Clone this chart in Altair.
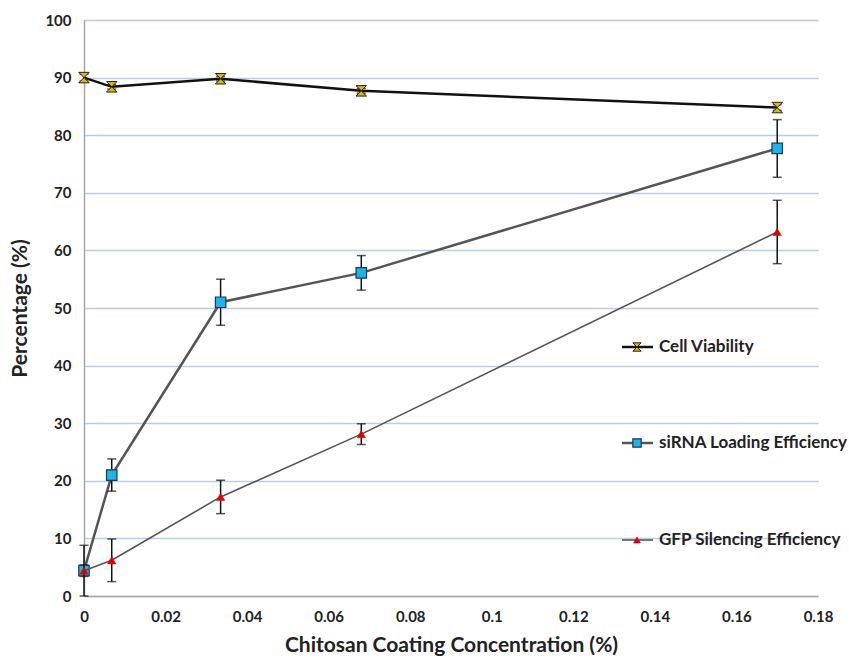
import altair as alt
import pandas as pd

# ---- data ----
conc = [0, 0.0068, 0.0335, 0.068, 0.17]
viability = [90.0, 88.4, 89.8, 87.7, 84.8]
viability_err = [0.6, 0.4, 0.4, 0.4, 0.5]
sirna = [4.4, 21.0, 51.0, 56.1, 77.7]
sirna_err = [1.0, 2.8, 4.0, 3.0, 5.0]
gfp = [4.4, 6.2, 17.2, 28.1, 63.2]
gfp_err = [4.4, 3.7, 2.9, 1.8, 5.5]
series_names = ["Cell Viability", "siRNA Loading Efficiency", "GFP Silencing Efficiency"]
x_ticks = [0, 0.02, 0.04, 0.06, 0.08, 0.1, 0.12, 0.14, 0.16, 0.18]
y_ticks = [0, 10, 20, 30, 40, 50, 60, 70, 80, 90, 100]

FONT = "Lato"
HOURGLASS = "M-1,-1L1,-1L-1,1L1,1Z"


def frame(vals, errs):
    return pd.DataFrame({
        "x": conc,
        "y": vals,
        "lo": [v - e for v, e in zip(vals, errs)],
        "hi": [v + e for v, e in zip(vals, errs)],
    })


xs = alt.Scale(domain=[0, 0.18], nice=False)
ys = alt.Scale(domain=[0, 100], nice=False)

X = alt.X("x:Q", scale=xs, axis=alt.Axis(
    values=x_ticks, format="~g", title="Chitosan Coating Concentration (%)",
    grid=False, ticks=False, domainColor="#A6A6A6", domainWidth=1.5,
    labelFont=FONT, labelFontSize=15, labelFontWeight="bold", labelColor="#222222",
    labelPadding=13, titleFont=FONT, titleFontSize=21, titleFontWeight="bold",
    titleColor="#222222", titlePadding=10, labelFlush=False))
Y = alt.Y("y:Q", scale=ys, axis=alt.Axis(
    values=y_ticks, title="Percentage (%)", grid=True, gridColor="#B9CDE5",
    gridWidth=1.5, ticks=False, domainColor="#A6A6A6", domainWidth=1.5,
    labelFont=FONT, labelFontSize=15, labelFontWeight="bold", labelColor="#222222",
    labelPadding=13, titleFont=FONT, titleFontSize=21, titleFontWeight="bold",
    titleColor="#222222", titlePadding=14))


def series_layers(df, line_color, line_width, marker):
    base = alt.Chart(df)
    line = base.mark_line(color=line_color, strokeWidth=line_width).encode(x=X, y=Y)
    bar = base.mark_rule(color="#111111", strokeWidth=1.5).encode(
        x="x:Q", y="lo:Q", y2="hi:Q")
    cap_lo = base.mark_tick(color="#111111", orient="horizontal", size=9, thickness=1.5).encode(
        x="x:Q", y="lo:Q")
    cap_hi = base.mark_tick(color="#111111", orient="horizontal", size=9, thickness=1.5).encode(
        x="x:Q", y="hi:Q")
    pts = base.mark_point(filled=True, opacity=1, **marker).encode(x="x:Q", y="y:Q")
    return [line, bar, cap_lo, cap_hi, pts]


via_marker = dict(shape=HOURGLASS, size=110, fill="#E8B400", stroke="#222222", strokeWidth=1)
sir_marker = dict(shape="square", size=110, fill="#1CB4EC", stroke="#1F3A4A", strokeWidth=1.2)
gfp_marker = dict(shape="triangle-up", size=70, fill="#E00000", stroke="#E00000", strokeWidth=0.5)

layers = []
layers += series_layers(frame(viability, viability_err), "#111111", 2.5, via_marker)
layers += series_layers(frame(sirna, sirna_err), "#555555", 2.5, sir_marker)
layers += series_layers(frame(gfp, gfp_err), "#555555", 1.6, gfp_marker)

# ---- manual legend (pixel positions in plot coordinates) ----
legend_rows = [
    (series_names[0], 327, "#111111", 2.5, dict(via_marker, size=70)),
    (series_names[1], 423, "#555555", 2.5, dict(sir_marker, size=70)),
    (series_names[2], 520, "#555555", 1.6, dict(gfp_marker, size=50)),
]
leg_src = pd.DataFrame({"k": [0]})
for name, ypix, col, w, mk in legend_rows:
    lb = alt.Chart(leg_src)
    layers.append(lb.mark_rule(color=col, strokeWidth=w).encode(
        x=alt.value(538), x2=alt.value(569), y=alt.value(ypix)))
    layers.append(lb.mark_point(filled=True, opacity=1, **mk).encode(
        x=alt.value(553), y=alt.value(ypix)))
    layers.append(lb.mark_text(text=name, align="left", baseline="middle", font=FONT,
                               fontSize=17, fontWeight="bold", color="#222222").encode(
        x=alt.value(575), y=alt.value(ypix)))

chart = alt.layer(*layers).properties(
    width=734, height=576,
    autosize=alt.AutoSizeParams(type="none"),
    padding={"left": 84, "top": 20, "right": 31, "bottom": 70},
    background="white",
).configure_view(stroke=None).configure_axisX(grid=False)

chart.save("out.html", embed_options={"renderer": "svg", "actions": False})
